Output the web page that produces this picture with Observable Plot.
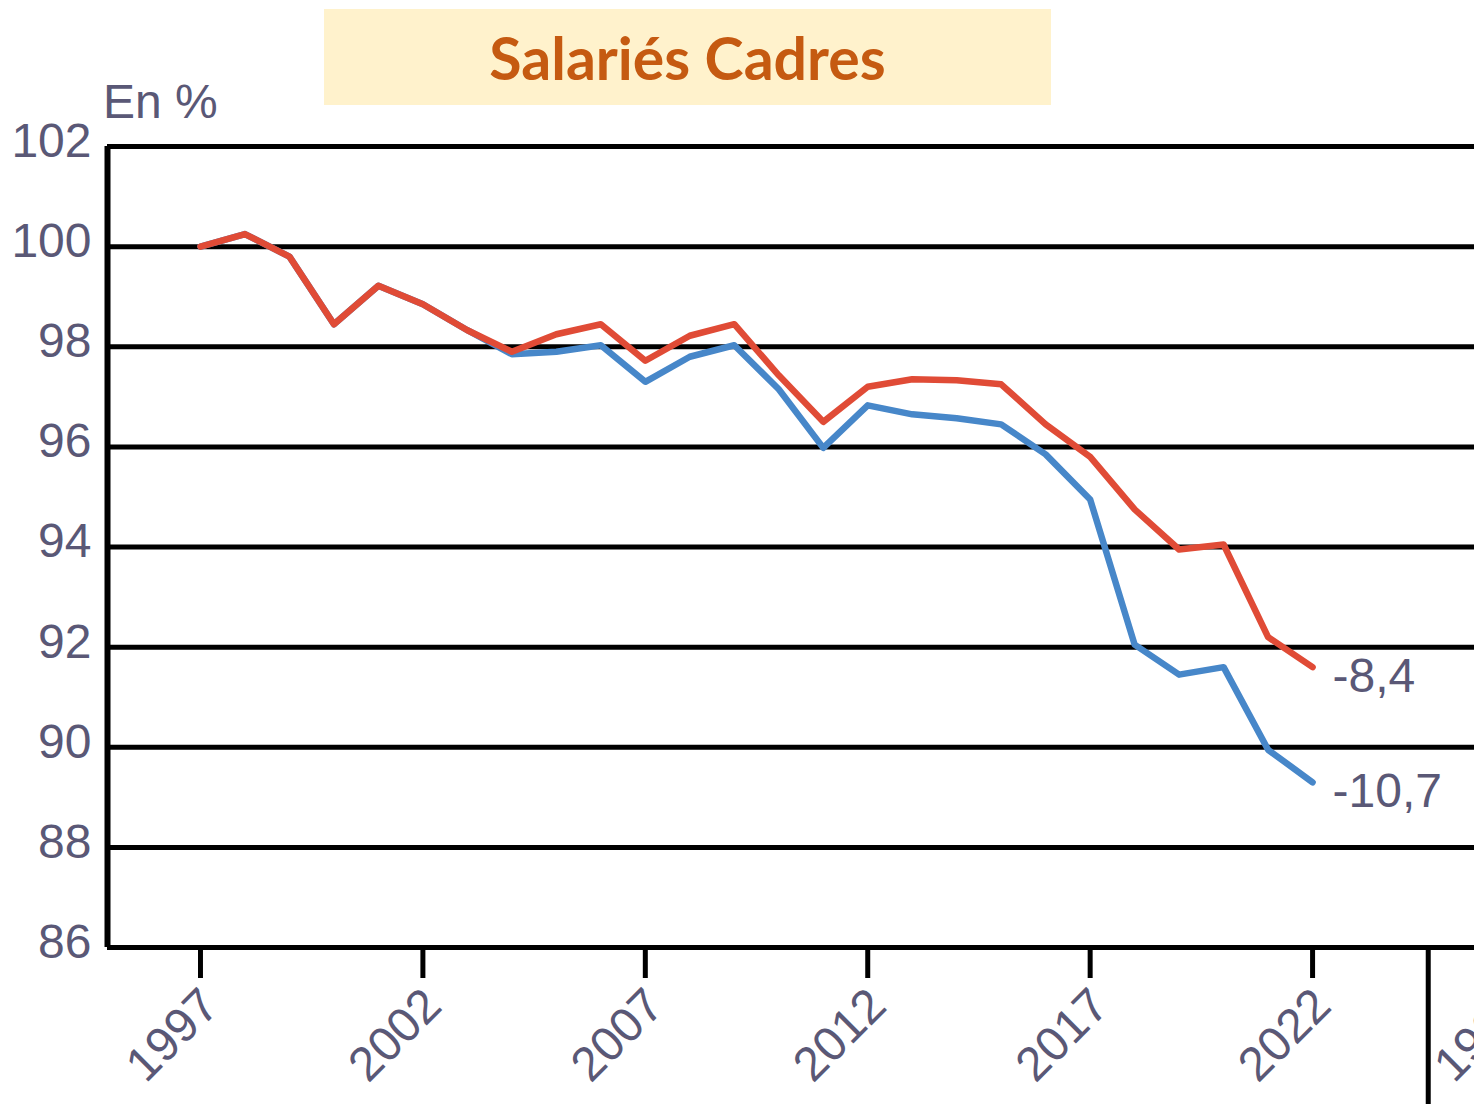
<!DOCTYPE html>
<html><head><meta charset="utf-8">
<script src="https://cdn.jsdelivr.net/npm/d3@7"></script>
<script src="https://cdn.jsdelivr.net/npm/@observablehq/plot@0.6"></script>
<style>
body{margin:0;background:#fff;}
#wrap{position:relative;width:1474px;height:1104px;overflow:hidden;background:#fff;}
#chart{position:absolute;left:0;top:0;}
#title{position:absolute;left:324px;top:9px;width:727px;height:96px;background:#FFF2CC;color:#C55A11;font-family:Lato,sans-serif;font-weight:bold;font-size:59px;display:flex;align-items:center;justify-content:center;}
#unit{position:absolute;left:103px;top:74px;font-family:"Liberation Sans",sans-serif;font-size:48px;color:#5a5876;}
</style></head><body>
<div id="wrap"><div id="chart"></div><div id="title">Salariés Cadres</div><div id="unit">En %</div></div>
<script>
const years = [1997,1998,1999,2000,2001,2002,2003,2004,2005,2006,2007,2008,2009,2010,2011,2012,2013,2014,2015,2016,2017,2018,2019,2020,2021,2022];
const serieRouge = [100.0,100.25,99.8,98.45,99.22,98.85,98.33,97.9,98.25,98.45,97.72,98.22,98.45,97.43,96.5,97.2,97.35,97.33,97.25,96.45,95.8,94.75,93.95,94.05,92.2,91.6];
const serieBleue = [100.0,100.25,99.8,98.45,99.22,98.85,98.33,97.85,97.9,98.03,97.3,97.8,98.03,97.15,95.98,96.83,96.65,96.57,96.45,95.85,94.95,92.05,91.45,91.6,89.95,89.3];
const endLabels = ["-8,4", "-10,7"];
const yTicks = [86,88,90,92,94,96,98,100,102];
const xTicks = [1997,2002,2007,2012,2017,2022];
const xDomain = [1994.91, 2025.64];
const panelEdge = [2024.6];
const nextPanelTick = [2026.45];
const nextPanelLabel = "1997";

const colRouge = "#E04B36";
const colBleue = "#4787C9";
const labelColor = "#5a5876";

const rouge = years.map((y,i)=>({year:y, value:serieRouge[i]}));
const bleue = years.map((y,i)=>({year:y, value:serieBleue[i]}));
const ends = [
  {year: years[years.length-1], value: serieRouge[serieRouge.length-1], label: endLabels[0]},
  {year: years[years.length-1], value: serieBleue[serieBleue.length-1], label: endLabels[1]}
];

const chart = Plot.plot({
  width: 1474, height: 1104,
  marginLeft: 107, marginRight: 0, marginTop: 146, marginBottom: 157,
  x: {domain: xDomain},
  y: {domain: [86, 102]},
  style: {fontFamily: "Liberation Sans, sans-serif", fontSize: "48px", color: labelColor, background: "transparent"},
  marks: [
    Plot.ruleY(yTicks, {stroke: "black", strokeWidth: 5}),
    Plot.ruleX([xDomain[0]], {stroke: "black", strokeWidth: 6}),
    Plot.axisY({ticks: yTicks, tickSize: 0, tickPadding: 16, dy: -5, label: null, fontSize: 48}),
    Plot.axisX({ticks: xTicks, tickSize: 31, tickFormat: () => "", label: null, stroke: "black", strokeWidth: 5}),
    Plot.axisX({ticks: xTicks, tickSize: 0, tickPadding: 50, dx: 10, tickRotate: -45, tickFormat: d => String(d), label: null, fontSize: 48}),
    Plot.axisX({ticks: panelEdge, tickSize: 160, tickFormat: () => "", label: null, stroke: "black", strokeWidth: 5}),
    Plot.axisX({ticks: nextPanelTick, tickSize: 0, tickPadding: 50, dx: 8, tickRotate: -45, tickFormat: () => nextPanelLabel, label: null, fontSize: 48}),
    Plot.line(bleue, {x: "year", y: "value", stroke: colBleue, strokeWidth: 6.5, strokeLinejoin: "round", strokeLinecap: "round"}),
    Plot.line(rouge, {x: "year", y: "value", stroke: colRouge, strokeWidth: 6.5, strokeLinejoin: "round", strokeLinecap: "round"}),
    Plot.text(ends, {x: "year", y: "value", text: "label", dx: 20, dy: 9, textAnchor: "start", fill: labelColor, fontSize: 48})
  ]
});
document.getElementById("chart").appendChild(chart);
</script>
</body></html>
